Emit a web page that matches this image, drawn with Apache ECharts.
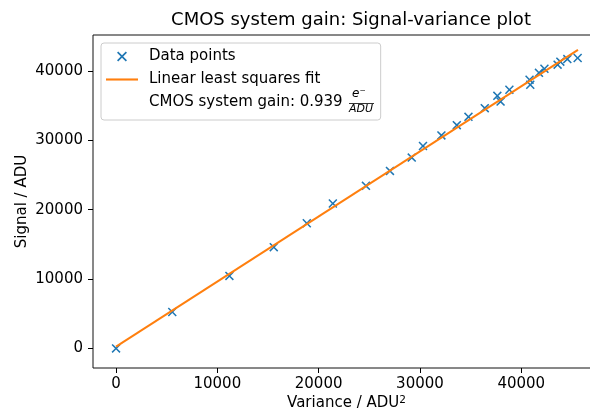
<!DOCTYPE html>
<html>
<head>
<meta charset="utf-8">
<script src="https://cdn.jsdelivr.net/npm/echarts@6/dist/echarts.min.js"></script>
<style>
  html, body { margin: 0; padding: 0; background: #ffffff; }
  #chart { width: 590px; height: 410px; }
</style>
</head>
<body>
<div id="chart"></div>
<script>
// variance (ADU^2) and mean signal (ADU)
const varianceX = [0, 5550, 11190, 15570, 18830, 21400, 24670, 27040, 29190, 30300,
  32120, 33640, 34790, 36400, 37640, 37960, 38830, 40820, 40890, 41750,
  42290, 43590, 43860, 44550, 45570];
const signalY = [0, 5250, 10450, 14600, 18050, 20900, 23440, 25600, 27520, 29190,
  30720, 32200, 33400, 34650, 36420, 35600, 37300, 38750, 38030, 39740,
  40330, 40920, 41350, 41730, 41880];
// end points of the fitted line
const fitX = [0, 45600];
const fitY = [250, 43060];
const xTicks = [0, 10000, 20000, 30000, 40000];
const yTicks = [0, 10000, 20000, 30000, 40000];
const gainText = 'CMOS system gain: 0.939';

const FONT = 'DejaVu Sans';
const FS = 15;
const crossPath = 'path://M0,1.2L1.2,0L5,3.8L8.8,0L10,1.2L6.2,5L10,8.8L8.8,10L5,6.2L1.2,10L0,8.8L3.8,5Z';
const dashPath = 'path://M0,0L32,0L32,2.1L0,2.1Z';

const chart = echarts.init(document.getElementById('chart'), null, { renderer: 'canvas' });

const points = varianceX.map((x, i) => [x, signalY[i]]);
const fitLine = fitX.map((x, i) => [x, fitY[i]]);

const option = {
  animation: false,
  textStyle: { fontFamily: FONT },
  title: {
    text: 'CMOS system gain: Signal-variance plot',
    left: 346,
    top: 6,
    textAlign: 'center',
    textStyle: { fontFamily: FONT, fontSize: 18, fontWeight: 'normal', color: '#000' }
  },
  grid: {
    left: 93, top: 35, right: -10, bottom: 42,
    outerBoundsMode: 'none',
    containLabel: false,
    show: true, borderColor: '#111', borderWidth: 1, backgroundColor: 'transparent'
  },
  legend: {
    left: 101, top: 43,
    orient: 'vertical',
    selectedMode: false,
    backgroundColor: 'rgba(255,255,255,0.8)',
    borderColor: '#cccccc', borderWidth: 1, borderRadius: 3,
    padding: [6, 38, 10, 5],
    itemWidth: 32, itemHeight: 10, itemGap: 8,
    textStyle: { fontFamily: FONT, fontSize: FS, color: '#000', padding: [0, 0, 0, 6] },
    data: [
      { name: 'Data points', icon: crossPath, itemStyle: { color: '#1f77b4' } },
      { name: 'Linear least squares fit', icon: dashPath, itemStyle: { color: '#ff7f0e' } },
      { name: gainText, icon: 'rect', itemStyle: { color: 'rgba(0,0,0,0)', opacity: 0 } }
    ]
  },
  xAxis: {
    type: 'value',
    min: -2275, max: 47775,
    name: 'Variance / ADU{sup|2}',
    nameLocation: 'middle',
    nameGap: 27,
    nameMoveOverlap: false,
    nameTextStyle: {
      fontFamily: FONT, fontSize: FS, color: '#000',
      rich: { sup: { fontFamily: FONT, fontSize: 10.5, color: '#000', verticalAlign: 'top', padding: [0, 0, 6, 0] } }
    },
    axisLine: { show: false, onZero: false },
    splitLine: { show: false },
    axisTick: { show: true, length: 5, customValues: xTicks, lineStyle: { color: '#000', width: 1 } },
    axisLabel: { customValues: xTicks, margin: 9, fontFamily: FONT, fontSize: FS, color: '#000',
      formatter: v => String(v) }
  },
  yAxis: {
    type: 'value',
    min: -2830, max: 45200,
    name: 'Signal / ADU',
    nameLocation: 'middle',
    nameGap: 63,
    nameMoveOverlap: false,
    nameTextStyle: { fontFamily: FONT, fontSize: FS, color: '#000' },
    axisLine: { show: false, onZero: false },
    splitLine: { show: false },
    axisTick: { show: true, length: 5, customValues: yTicks, lineStyle: { color: '#000', width: 1 } },
    axisLabel: { customValues: yTicks, margin: 10, fontFamily: FONT, fontSize: FS, color: '#000',
      formatter: v => String(v) }
  },
  series: [
    {
      name: 'Data points',
      type: 'scatter',
      symbol: crossPath,
      symbolSize: 9,
      itemStyle: { color: '#1f77b4', opacity: 1 },
      data: points,
      z: 3
    },
    {
      name: 'Linear least squares fit',
      type: 'line',
      showSymbol: false,
      symbol: 'none',
      lineStyle: { color: '#ff7f0e', width: 2 },
      itemStyle: { color: '#ff7f0e' },
      data: fitLine,
      z: 4
    },
    {
      name: gainText,
      type: 'line',
      showSymbol: false,
      data: []
    }
  ],
  graphic: [
    { type: 'text', left: 352, top: 88, z: 100,
      style: { text: 'e\u207B', font: 'italic 12px "DejaVu Sans"', fill: '#000' } },
    { type: 'line', z: 100, shape: { x1: 349, y1: 103.5, x2: 374, y2: 103.5 },
      style: { stroke: '#000', lineWidth: 0.8 } },
    { type: 'text', left: 349, top: 104, z: 100,
      style: { text: 'ADU', font: 'italic 11px "DejaVu Sans"', fill: '#000' } }
  ]
};

chart.setOption(option);
</script>
</body>
</html>
